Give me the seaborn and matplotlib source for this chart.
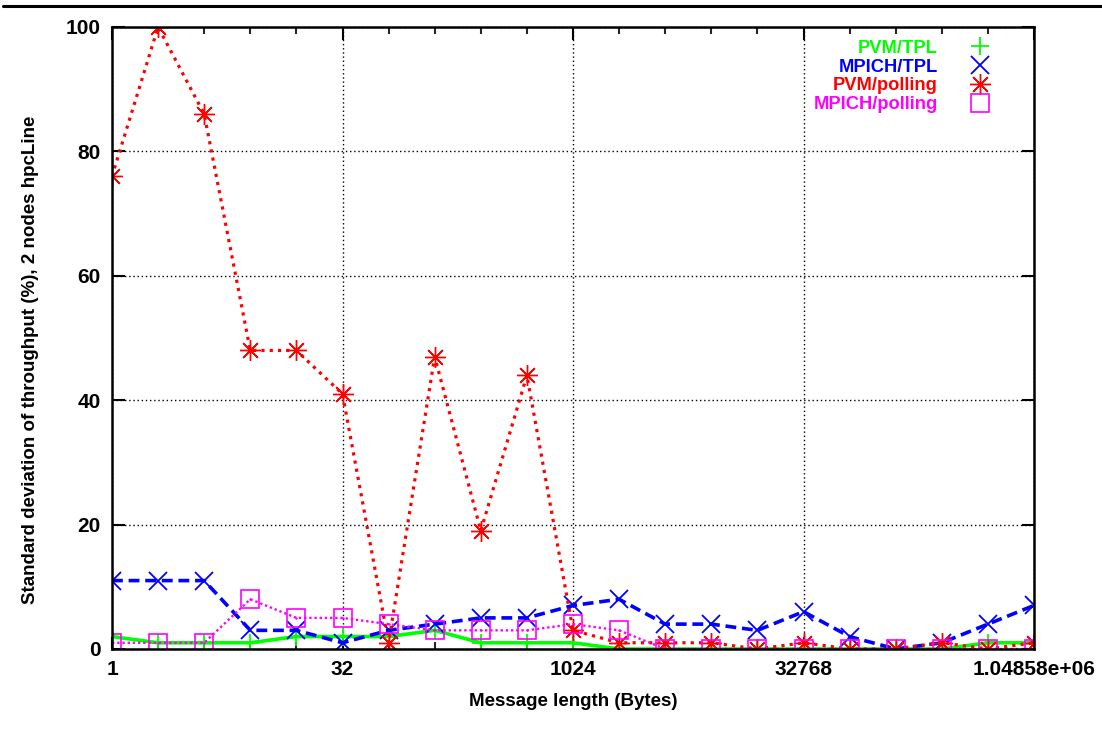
import numpy as np
import pandas as pd
import seaborn as sns
import matplotlib
matplotlib.use("Agg")
import matplotlib.pyplot as plt
from matplotlib.lines import Line2D
from matplotlib.ticker import FixedLocator, FixedFormatter

# ---- data ----
msg_len = [2 ** i for i in range(21)]
pvm_tpl = [2, 1, 1, 1, 2, 2, 2, 3, 1, 1, 1, 0, 0, 0, 0, 0, 0, 0, 0, 1, 1]
mpich_tpl = [11, 11, 11, 3, 3, 1, 3, 4, 5, 5, 7, 8, 4, 4, 3, 6, 2, 0, 1, 4, 7]
pvm_polling = [76, 100, 86, 48, 48, 41, 1, 47, 19, 44, 3, 1, 1, 1, 0, 1, 0, 0, 1, 0, 1]
mpich_polling = [1, 1, 1, 8, 5, 5, 4, 3, 3, 3, 4, 3, 0, 0, 0, 0, 0, 0, 0, 0, 0]
series_names = ["PVM/TPL", "MPICH/TPL", "PVM/polling", "MPICH/polling"]
xtick_vals = [1, 32, 1024, 32768, 1048576]
xtick_labels = ["1", "32", "1024", "32768", "1.04858e+06"]
ytick_vals = [0, 20, 40, 60, 80, 100]

sns.set_theme(style="white")
plt.rcParams["font.family"] = ["Liberation Sans", "DejaVu Sans"]

fig = plt.figure(figsize=(11.02, 7.37), dpi=100)
ax = fig.add_axes([112 / 1102, 1 - 649 / 737, (1034 - 112) / 1102, (649 - 27) / 737])

styles = [
    dict(color="#00ff00", linestyle="-", linewidth=2.6, marker="+", markersize=13, mew=1.3),
    dict(color="#0000ff", linestyle=(0, (3, 1.6)), linewidth=2.6, marker="x", markersize=13, mew=1.3),
    dict(color="#ff0000", linestyle=(0, (1, 1.6)), linewidth=2.3, marker=(8, 2, 0), markersize=15, mew=1.0),
    dict(color="#ff00ff", linestyle=(0, (1, 1.2)), linewidth=1.7, marker="s", markersize=13, mew=1.2),
]
all_vals = [pvm_tpl, mpich_tpl, pvm_polling, mpich_polling]

for name, vals, st in zip(series_names, all_vals, styles):
    df = pd.DataFrame({"x": msg_len, "y": vals})
    sns.lineplot(data=df, x="x", y="y", ax=ax, color=st["color"], linestyle=st["linestyle"],
                 linewidth=st["linewidth"], marker=st["marker"], markersize=st["markersize"],
                 markeredgewidth=st["mew"], markeredgecolor=st["color"],
                 markerfacecolor="none", legend=False, zorder=3)
    if st["marker"] == "s":
        ax.plot(msg_len, vals, linestyle="none", marker=".", markersize=1.5, color=st["color"], zorder=3)

ax.set_xscale("log", base=2)
ax.set_xlim(1, 1048576)
ax.set_ylim(0, 100)

ax.xaxis.set_major_locator(FixedLocator(xtick_vals))
ax.xaxis.set_major_formatter(FixedFormatter(xtick_labels))
ax.xaxis.set_minor_locator(FixedLocator(msg_len))
ax.xaxis.set_minor_formatter(FixedFormatter([""] * len(msg_len)))
ax.set_yticks(ytick_vals)
ax.set_yticklabels([str(v) for v in ytick_vals])

ax.tick_params(axis="both", which="major", direction="in", length=9, width=1.5,
               top=True, right=True, bottom=True, left=True, labelsize=15, colors="black")
ax.tick_params(axis="x", which="major", pad=8)
ax.tick_params(axis="y", which="major", pad=8)
ax.tick_params(axis="x", which="minor", direction="in", length=5, width=1.5, top=True, bottom=True)
for lab in ax.get_xticklabels() + ax.get_yticklabels():
    lab.set_fontweight("bold")

ax.grid(True, which="major", color="black", linestyle=(0, (1, 2)), linewidth=1.0)
ax.grid(False, which="minor")
for sp in ax.spines.values():
    sp.set_color("black")
    sp.set_linewidth(1.8)
    sp.set_zorder(4)

ax.set_xlabel("Message length (Bytes)", fontsize=13.5, fontweight="bold", color="black")
ax.set_ylabel("Standard deviation of throughput (%), 2 nodes hpcLine", fontsize=13.5,
              fontweight="bold", color="black")
ax.xaxis.set_label_coords(0.5, -0.071)
ax.yaxis.set_label_coords(-0.079, 0.465)

handles = [Line2D([], [], linestyle="none", marker=st["marker"], markersize=st["markersize"],
                  markeredgewidth=st["mew"], color=st["color"], markerfacecolor="none")
           for st in styles]
leg = ax.legend(handles, series_names, loc="upper right", bbox_to_anchor=(1011 / 1102, 1 - 27 / 737),
                bbox_transform=fig.transFigure, frameon=False, markerfirst=False,
                labelcolor=[st["color"] for st in styles], fontsize=13.2, labelspacing=0.1,
                handletextpad=1.3, handlelength=2.0, borderpad=0.2)
for t in leg.get_texts():
    t.set_fontweight("bold")

fig.add_artist(Line2D([3 / 1102, 1.0], [1 - 6 / 737, 1 - 6 / 737], color="black", linewidth=2.2))

fig.savefig("out.png", dpi=100, facecolor="white")
